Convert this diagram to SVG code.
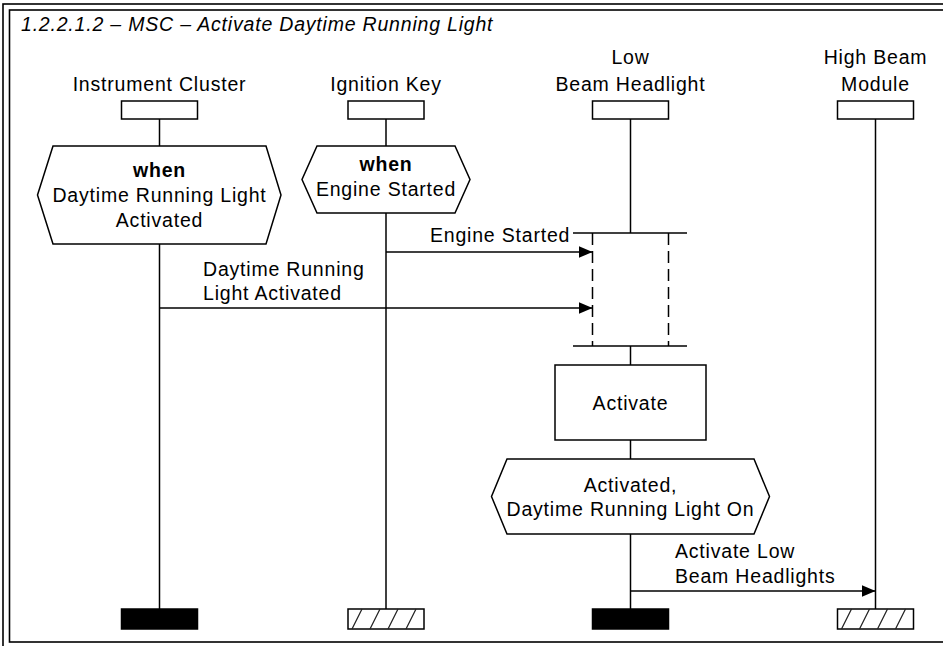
<svg xmlns="http://www.w3.org/2000/svg" width="943" height="646" viewBox="0 0 943 646">
<style>
  .frame { fill: none; stroke: #000; stroke-width: 1.6; }
  .ln { fill: none; stroke: #000; stroke-width: 1.5; }
  .box { fill: #fff; stroke: #000; stroke-width: 1.5; }
  .stop { fill: #000; stroke: #000; stroke-width: 1.5; }
  .dash { fill: none; stroke: #000; stroke-width: 1.5; stroke-dasharray: 12 6; }
  .hatch { stroke: #222; stroke-width: 1.3; }
  text { font-family: "Liberation Sans", Arial, sans-serif; font-size: 19.5px; letter-spacing: 0.8px; fill: #000; }
  .c { text-anchor: middle; }
  .b { font-weight: bold; }
  .i { font-style: italic; }
</style>
<defs>
  <marker id="arr" markerUnits="userSpaceOnUse" markerWidth="14" markerHeight="12" refX="14" refY="6" orient="auto">
    <path d="M0,0 L14,6 L0,12 Z" fill="#000"/>
  </marker>
</defs>
<rect width="943" height="646" fill="#fff"/>
<g id="frame">
  <rect class="frame" x="3" y="4" width="952" height="652"/>
  <rect class="frame" x="9.5" y="10" width="942" height="632"/>
  <text class="i" x="21" y="31">1.2.2.1.2 – MSC – Activate Daytime Running Light</text>
</g>

<g id="instrument-cluster">
  <text class="c" x="159.5" y="91">Instrument Cluster</text>
  <rect class="box" x="121.5" y="101" width="76" height="18"/>
  <line class="ln" x1="159.5" y1="119" x2="159.5" y2="146"/>
  <line class="ln" x1="159.5" y1="244" x2="159.5" y2="609"/>
  <rect class="stop" x="121.5" y="609" width="76" height="20"/>
</g>

<g id="ignition-key">
  <text class="c" x="386" y="91">Ignition Key</text>
  <rect class="box" x="348" y="101" width="76" height="18"/>
  <line class="ln" x1="386" y1="119" x2="386" y2="146"/>
  <line class="ln" x1="386" y1="213" x2="386" y2="609"/>
  <rect class="box" x="348" y="609" width="76" height="20"/>
  <line class="hatch" x1="352" y1="629" x2="362" y2="609"/>
  <line class="hatch" x1="370" y1="629" x2="380" y2="609"/>
  <line class="hatch" x1="388" y1="629" x2="398" y2="609"/>
  <line class="hatch" x1="406" y1="629" x2="416" y2="609"/>
</g>

<g id="low-beam-headlight">
  <text class="c" x="630.5" y="64">Low</text>
  <text class="c" x="630.5" y="91">Beam Headlight</text>
  <rect class="box" x="592.5" y="101" width="76" height="18"/>
  <line class="ln" x1="630.5" y1="119" x2="630.5" y2="233"/>
  <line class="ln" x1="630.5" y1="346" x2="630.5" y2="365"/>
  <line class="ln" x1="630.5" y1="440" x2="630.5" y2="459"/>
  <line class="ln" x1="630.5" y1="534" x2="630.5" y2="609"/>
  <rect class="stop" x="592.5" y="609" width="76" height="20"/>
</g>

<g id="high-beam-module">
  <text class="c" x="875.5" y="64">High Beam</text>
  <text class="c" x="875.5" y="91">Module</text>
  <rect class="box" x="837.5" y="101" width="76" height="18"/>
  <line class="ln" x1="875.5" y1="119" x2="875.5" y2="609"/>
  <rect class="box" x="837.5" y="609" width="76" height="20"/>
  <line class="hatch" x1="841.5" y1="629" x2="851.5" y2="609"/>
  <line class="hatch" x1="859.5" y1="629" x2="869.5" y2="609"/>
  <line class="hatch" x1="877.5" y1="629" x2="887.5" y2="609"/>
  <line class="hatch" x1="895.5" y1="629" x2="905.5" y2="609"/>
</g>

<g id="cond-drl-activated">
  <polygon class="box" points="53,146 266,146 281,195 266,244 53,244 37.5,195"/>
  <text class="c b" x="159.5" y="177">when</text>
  <text class="c" x="159.5" y="202">Daytime Running Light</text>
  <text class="c" x="159.5" y="227">Activated</text>
</g>

<g id="cond-engine-started">
  <polygon class="box" points="317,146 455,146 470,179.5 455,213 317,213 302,179.5"/>
  <text class="c b" x="386" y="171">when</text>
  <text class="c" x="386" y="196">Engine Started</text>
</g>

<g id="coregion">
  <line class="ln" x1="573" y1="233" x2="687" y2="233"/>
  <line class="ln" x1="573" y1="346" x2="687" y2="346"/>
  <line class="dash" x1="592.5" y1="233" x2="592.5" y2="346"/>
  <line class="dash" x1="668.5" y1="233" x2="668.5" y2="346"/>
</g>

<g id="action-activate">
  <rect class="box" x="555" y="365" width="151" height="75"/>
  <text class="c" x="630.5" y="410">Activate</text>
</g>

<g id="cond-activated">
  <polygon class="box" points="507,459 754,459 769.5,496.5 754,534 507,534 491.5,496.5"/>
  <text class="c" x="630.5" y="492">Activated,</text>
  <text class="c" x="630.5" y="516">Daytime Running Light On</text>
</g>

<g id="connectors">
  <line class="ln" x1="386" y1="252" x2="592.5" y2="252" marker-end="url(#arr)"/>
  <text x="430" y="242">Engine Started</text>
  <line class="ln" x1="159.5" y1="308" x2="592.5" y2="308" marker-end="url(#arr)"/>
  <text x="203" y="276">Daytime Running</text>
  <text x="203" y="300">Light Activated</text>
  <line class="ln" x1="630.5" y1="591" x2="875.5" y2="591" marker-end="url(#arr)"/>
  <text x="675" y="558">Activate Low</text>
  <text x="675" y="583">Beam Headlights</text>
</g>
</svg>
